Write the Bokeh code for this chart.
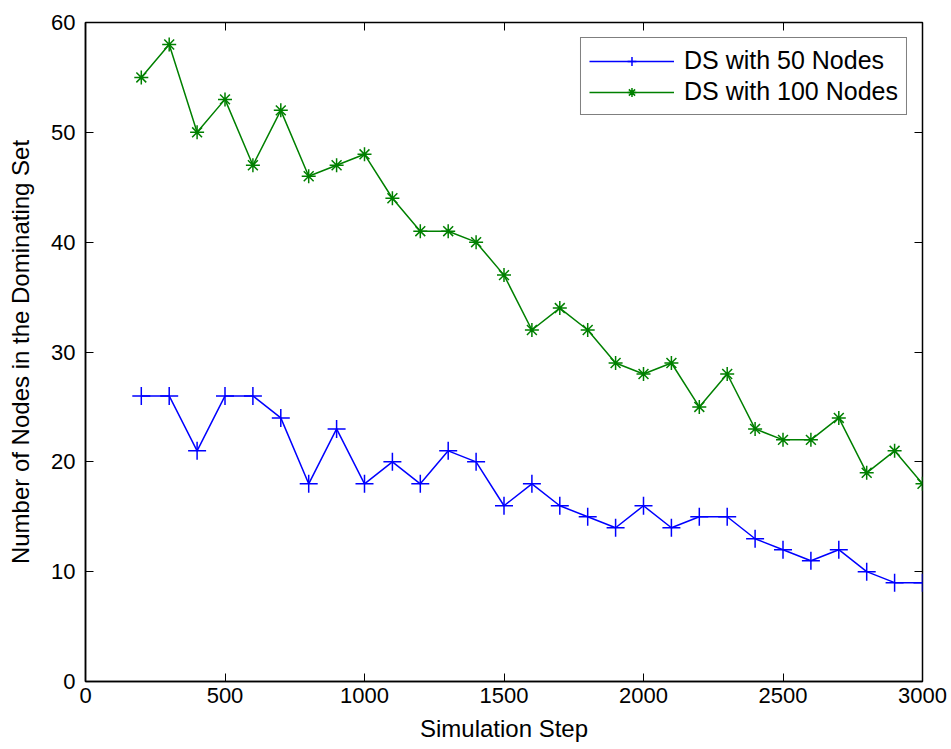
from bokeh.plotting import figure
from bokeh.models import LinearAxis, Range1d, Legend, LegendItem, FixedTicker, CustomJSTickFormatter
from bokeh.embed import file_html
from bokeh.resources import INLINE

steps = list(range(200, 3001, 100))
ds50 = [26, 26, 21, 26, 26, 24, 18, 23, 18, 20, 18, 21, 20, 16, 18, 16, 15, 14, 16, 14,
        15, 15, 13, 12, 11, 12, 10, 9, 9]
ds100 = [55, 58, 50, 53, 47, 52, 46, 47, 48, 44, 41, 41, 40, 37, 32, 34, 32, 29, 28, 29,
         25, 28, 23, 22, 22, 24, 19, 21, 18]
xticks = [0, 500, 1000, 1500, 2000, 2500, 3000]
yticks = [0, 10, 20, 30, 40, 50, 60]

FONT = "Liberation Sans"

p = figure(width=951, height=749, output_backend="svg", toolbar_location=None,
           x_range=Range1d(0, 3000), y_range=Range1d(0, 60),
           min_border_left=85, min_border_right=29, min_border_top=22, min_border_bottom=68)
p.xgrid.visible = False
p.ygrid.visible = False
p.outline_line_color = "black"
p.outline_line_width = 1.5

for ax, ticks in ((p.xaxis[0], xticks), (p.yaxis[0], yticks)):
    ax.ticker = FixedTicker(ticks=ticks)
    ax.major_tick_in = 8
    ax.major_tick_out = 0
    ax.minor_tick_line_color = None
    ax.major_label_text_font = FONT
    ax.major_label_text_font_size = "22px"
    ax.major_label_text_color = "black"
    ax.axis_label_text_font = FONT
    ax.axis_label_text_font_size = "24px"
    ax.axis_label_text_font_style = "normal"
    ax.axis_label_text_color = "black"
    ax.axis_line_width = 1.5
    ax.major_tick_line_width = 1
p.xaxis[0].axis_label = "Simulation Step"
p.yaxis[0].axis_label = "Number of Nodes in the Dominating Set"
p.xaxis[0].axis_label_standoff = 9
p.yaxis[0].axis_label_standoff = 14
p.xaxis[0].major_label_standoff = 6
p.yaxis[0].major_label_standoff = 10

blank = CustomJSTickFormatter(code="return ''")
top = LinearAxis(ticker=FixedTicker(ticks=xticks), major_tick_in=8, major_tick_out=0,
                 minor_tick_line_color=None, formatter=blank, axis_line_color=None,
                 major_label_standoff=0)
right = LinearAxis(ticker=FixedTicker(ticks=yticks), major_tick_in=8, major_tick_out=0,
                   minor_tick_line_color=None, formatter=blank, axis_line_color=None,
                   major_label_standoff=0)
p.add_layout(top, "above")
p.add_layout(right, "right")

l1 = p.line(steps, ds50, line_color="#0000ff", line_width=1.5)
m1 = p.scatter(steps, ds50, marker="cross", size=18, line_color="#0000ff", line_width=1.5)
l2 = p.line(steps, ds100, line_color="#008000", line_width=1.5)
m2 = p.scatter(steps, ds100, marker="asterisk", size=14, line_color="#008000", line_width=1.5)

legend = Legend(items=[LegendItem(label="DS with 50 Nodes", renderers=[l1, m1]),
                       LegendItem(label="DS with 100 Nodes", renderers=[l2, m2])],
                location="top_right", label_text_font=FONT, label_text_font_size="25px",
                label_text_color="black",
                border_line_color="black", border_line_width=1.5,
                glyph_width=85, glyph_height=22, spacing=2, padding=8, margin=15,
                label_standoff=10)
p.add_layout(legend)

open("out.html", "w").write(file_html(p, INLINE))
